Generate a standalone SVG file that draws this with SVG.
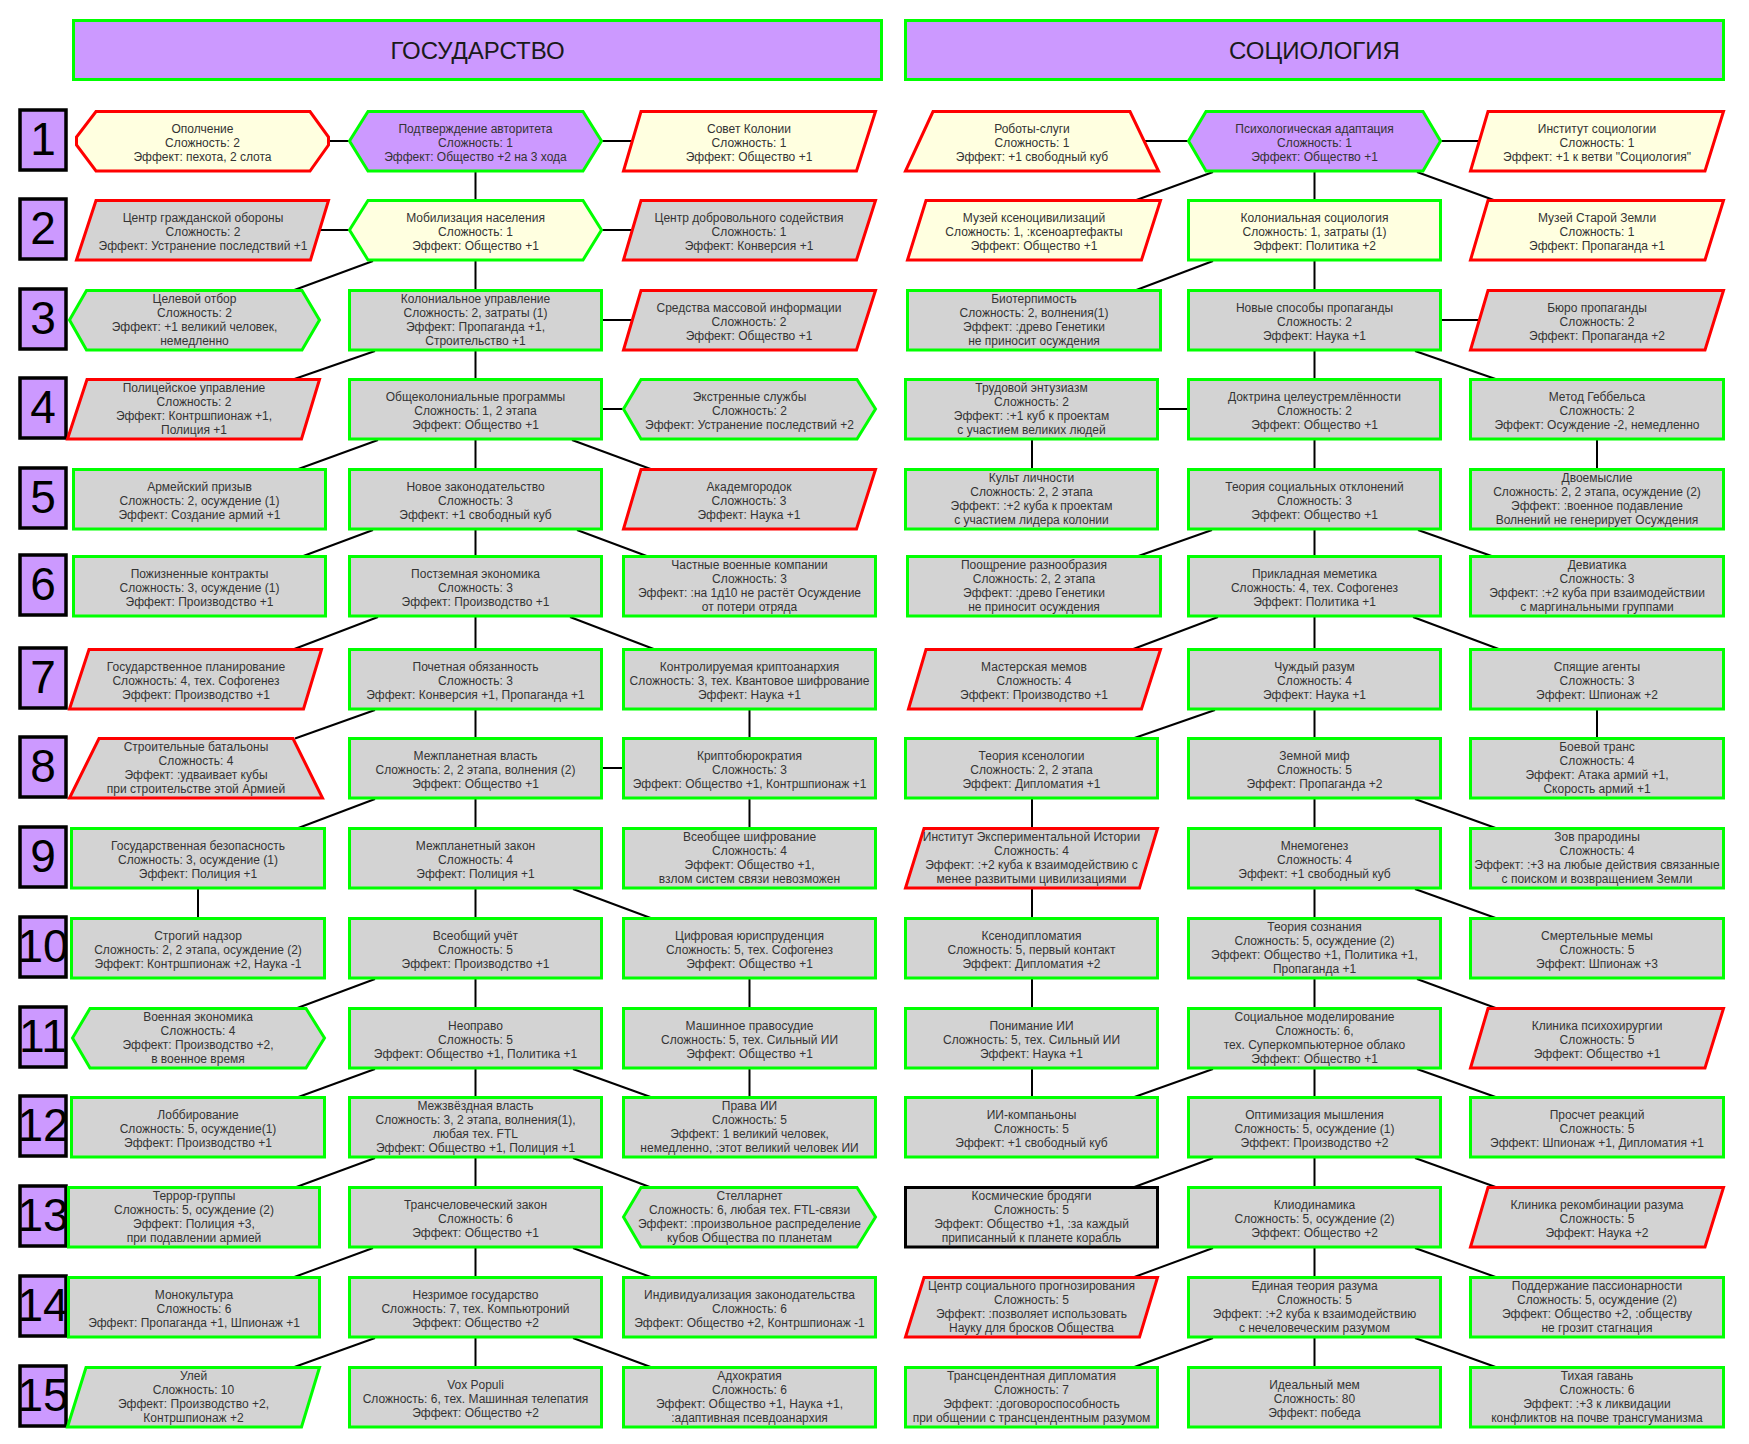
<svg xmlns="http://www.w3.org/2000/svg" width="1749" height="1444" viewBox="0 0 1749 1444">
<style>
.n{stroke-width:3}
.g{stroke:#00ff00}
.r{stroke:#ff0000}
.k{stroke:#000000}
.y{fill:#ffffe0}
.s{fill:#d3d3d3}
.p{fill:#cc99ff}
.t{font-family:"Liberation Sans",Arial,sans-serif;font-size:12px;fill:#333333;text-anchor:middle}
.h{font-family:"Liberation Sans",Arial,sans-serif;font-size:24px;fill:#1a1a1a;text-anchor:middle}
.num{font-family:"Liberation Sans",Arial,sans-serif;font-size:46px;fill:#000000;text-anchor:middle}
.rb{fill:#cc99ff;stroke:#000000;stroke-width:3.5}
#connectors line{stroke:#000000;stroke-width:2}
</style>
<rect x="0" y="0" width="1749" height="1444" fill="#ffffff"/>

<g id="headers">
<g id="header-gov"><rect class="n g p" x="73.5" y="20.5" width="808" height="59"/><text class="h" x="477.5" y="59">ГОСУДАРСТВО</text></g>
<g id="header-soc"><rect class="n g p" x="905.5" y="20.5" width="818" height="59"/><text class="h" x="1314.5" y="59">СОЦИОЛОГИЯ</text></g>
</g>

<g id="rows">
<g id="row1"><rect class="rb" x="20" y="110" width="46" height="60"/><text class="num" x="43" y="155">1</text></g>
<g id="row2"><rect class="rb" x="20" y="199" width="46" height="60"/><text class="num" x="43" y="244">2</text></g>
<g id="row3"><rect class="rb" x="20" y="289" width="46" height="60"/><text class="num" x="43" y="334">3</text></g>
<g id="row4"><rect class="rb" x="20" y="378" width="46" height="60"/><text class="num" x="43" y="423">4</text></g>
<g id="row5"><rect class="rb" x="20" y="468" width="46" height="60"/><text class="num" x="43" y="513">5</text></g>
<g id="row6"><rect class="rb" x="20" y="555" width="46" height="60"/><text class="num" x="43" y="600">6</text></g>
<g id="row7"><rect class="rb" x="20" y="648" width="46" height="60"/><text class="num" x="43" y="693">7</text></g>
<g id="row8"><rect class="rb" x="20" y="737" width="46" height="60"/><text class="num" x="43" y="782">8</text></g>
<g id="row9"><rect class="rb" x="20" y="827" width="46" height="60"/><text class="num" x="43" y="872">9</text></g>
<g id="row10"><rect class="rb" x="20" y="917" width="46" height="60"/><text class="num" x="43" y="962">10</text></g>
<g id="row11"><rect class="rb" x="20" y="1007" width="46" height="60"/><text class="num" x="43" y="1052">11</text></g>
<g id="row12"><rect class="rb" x="20" y="1096" width="46" height="60"/><text class="num" x="43" y="1141">12</text></g>
<g id="row13"><rect class="rb" x="20" y="1186" width="46" height="60"/><text class="num" x="43" y="1231">13</text></g>
<g id="row14"><rect class="rb" x="20" y="1276" width="46" height="60"/><text class="num" x="43" y="1321">14</text></g>
<g id="row15"><rect class="rb" x="20" y="1366" width="46" height="60"/><text class="num" x="43" y="1411">15</text></g>
</g>

<g id="connectors">
<line x1="475.5" y1="171" x2="475.5" y2="200.5"/>
<line x1="475.5" y1="260" x2="475.5" y2="290.5"/>
<line x1="475.5" y1="350" x2="475.5" y2="379.5"/>
<line x1="475.5" y1="439" x2="475.5" y2="469.5"/>
<line x1="475.5" y1="529" x2="475.5" y2="556.5"/>
<line x1="475.5" y1="616" x2="475.5" y2="649.5"/>
<line x1="475.5" y1="709" x2="475.5" y2="738.5"/>
<line x1="475.5" y1="798" x2="475.5" y2="828.5"/>
<line x1="475.5" y1="888" x2="475.5" y2="918.5"/>
<line x1="475.5" y1="978" x2="475.5" y2="1008.5"/>
<line x1="475.5" y1="1068" x2="475.5" y2="1097.5"/>
<line x1="475.5" y1="1157" x2="475.5" y2="1187.5"/>
<line x1="475.5" y1="1247" x2="475.5" y2="1277.5"/>
<line x1="475.5" y1="1337" x2="475.5" y2="1367.5"/>
<line x1="749.5" y1="709" x2="749.5" y2="738.5"/>
<line x1="749.5" y1="798" x2="749.5" y2="828.5"/>
<line x1="749.5" y1="978" x2="749.5" y2="1008.5"/>
<line x1="749.5" y1="1068" x2="749.5" y2="1097.5"/>
<line x1="198" y1="888" x2="198" y2="918.5"/>
<line x1="328.5" y1="141" x2="349.5" y2="141"/>
<line x1="601.5" y1="141" x2="632" y2="141"/>
<line x1="320" y1="230" x2="349.5" y2="230"/>
<line x1="601.5" y1="230" x2="632" y2="230"/>
<line x1="601.5" y1="320" x2="632" y2="320"/>
<line x1="601.5" y1="409" x2="623.5" y2="409"/>
<line x1="601.5" y1="768" x2="623.5" y2="768"/>
<line x1="373" y1="261" x2="293" y2="290.5"/>
<line x1="375" y1="351" x2="293" y2="379.5"/>
<line x1="378" y1="440" x2="297" y2="469.5"/>
<line x1="373" y1="530" x2="302" y2="556.5"/>
<line x1="378" y1="617" x2="293" y2="649.5"/>
<line x1="375" y1="710" x2="295" y2="738.5"/>
<line x1="375" y1="799" x2="297" y2="828.5"/>
<line x1="375" y1="979" x2="296" y2="1008.5"/>
<line x1="375" y1="1069" x2="297" y2="1097.5"/>
<line x1="375" y1="1158" x2="295" y2="1187.5"/>
<line x1="373" y1="1248" x2="293" y2="1277.5"/>
<line x1="375" y1="1338" x2="293" y2="1367.5"/>
<line x1="572" y1="440" x2="652" y2="469.5"/>
<line x1="577" y1="530" x2="648" y2="556.5"/>
<line x1="570" y1="617" x2="655" y2="649.5"/>
<line x1="573" y1="889" x2="652" y2="918.5"/>
<line x1="573" y1="1069" x2="652" y2="1097.5"/>
<line x1="573" y1="1158" x2="651" y2="1187.5"/>
<line x1="573" y1="1248" x2="652" y2="1277.5"/>
<line x1="573" y1="1338" x2="652" y2="1367.5"/>
<line x1="1314.5" y1="171" x2="1314.5" y2="200.5"/>
<line x1="1314.5" y1="260" x2="1314.5" y2="290.5"/>
<line x1="1314.5" y1="350" x2="1314.5" y2="379.5"/>
<line x1="1314.5" y1="439" x2="1314.5" y2="469.5"/>
<line x1="1314.5" y1="529" x2="1314.5" y2="556.5"/>
<line x1="1314.5" y1="616" x2="1314.5" y2="649.5"/>
<line x1="1314.5" y1="709" x2="1314.5" y2="738.5"/>
<line x1="1314.5" y1="798" x2="1314.5" y2="828.5"/>
<line x1="1314.5" y1="888" x2="1314.5" y2="918.5"/>
<line x1="1314.5" y1="978" x2="1314.5" y2="1008.5"/>
<line x1="1314.5" y1="1068" x2="1314.5" y2="1097.5"/>
<line x1="1314.5" y1="1157" x2="1314.5" y2="1187.5"/>
<line x1="1314.5" y1="1247" x2="1314.5" y2="1277.5"/>
<line x1="1314.5" y1="1337" x2="1314.5" y2="1367.5"/>
<line x1="1032" y1="439" x2="1032" y2="469.5"/>
<line x1="1032" y1="798" x2="1032" y2="828.5"/>
<line x1="1032" y1="888" x2="1032" y2="918.5"/>
<line x1="1032" y1="978" x2="1032" y2="1008.5"/>
<line x1="1032" y1="1068" x2="1032" y2="1097.5"/>
<line x1="1597" y1="439" x2="1597" y2="469.5"/>
<line x1="1597" y1="709" x2="1597" y2="738.5"/>
<line x1="1144" y1="141" x2="1188.5" y2="141"/>
<line x1="1440.5" y1="141" x2="1479" y2="141"/>
<line x1="1440.5" y1="320" x2="1479" y2="320"/>
<line x1="1158.5" y1="409" x2="1188.5" y2="409"/>
<line x1="1213" y1="172" x2="1135" y2="200.5"/>
<line x1="1213" y1="261" x2="1135" y2="290.5"/>
<line x1="1212" y1="530" x2="1137" y2="556.5"/>
<line x1="1218" y1="617" x2="1132" y2="649.5"/>
<line x1="1215" y1="710" x2="1133" y2="738.5"/>
<line x1="1213" y1="1069" x2="1133" y2="1097.5"/>
<line x1="1213" y1="1158" x2="1133" y2="1187.5"/>
<line x1="1213" y1="1248" x2="1133" y2="1277.5"/>
<line x1="1213" y1="1338" x2="1133" y2="1367.5"/>
<line x1="1417" y1="172" x2="1495" y2="200.5"/>
<line x1="1415" y1="351" x2="1497" y2="379.5"/>
<line x1="1418" y1="530" x2="1493" y2="556.5"/>
<line x1="1413" y1="617" x2="1500" y2="649.5"/>
<line x1="1415" y1="799" x2="1497" y2="828.5"/>
<line x1="1415" y1="889" x2="1497" y2="918.5"/>
<line x1="1417" y1="979" x2="1497" y2="1008.5"/>
<line x1="1417" y1="1069" x2="1497" y2="1097.5"/>
<line x1="1415" y1="1158" x2="1497" y2="1187.5"/>
<line x1="1415" y1="1248" x2="1497" y2="1277.5"/>
<line x1="1415" y1="1338" x2="1497" y2="1367.5"/>
</g>

<g id="nodes">
<g id="A1"><polygon class="n r y" points="96,111.5 310,111.5 328.5,137 328.5,145 310,171 96,171 76.5,145 76.5,137"/><text class="t" y="133"><tspan x="202.5">Ополчение</tspan><tspan x="202.5" dy="14">Сложность: 2</tspan><tspan x="202.5" dy="14">Эффект: пехота, 2 слота</tspan></text></g>
<g id="B1"><polygon class="n g p" points="368,111.5 583,111.5 601.5,141 583,171 368,171 349.5,141"/><text class="t" y="133"><tspan x="475.5">Подтверждение авторитета</tspan><tspan x="475.5" dy="14">Сложность: 1</tspan><tspan x="475.5" dy="14">Эффект: Общество +2 на 3 хода</tspan></text></g>
<g id="C1"><polygon class="n r y" points="641,111.5 875.5,111.5 856.5,171 623.5,171"/><text class="t" y="133"><tspan x="749">Совет Колонии</tspan><tspan x="749" dy="14">Сложность: 1</tspan><tspan x="749" dy="14">Эффект: Общество +1</tspan></text></g>

<g id="A2"><polygon class="n r s" points="96,200.5 328.5,200.5 310.5,260 76.5,260"/><text class="t" y="222"><tspan x="203">Центр гражданской обороны</tspan><tspan x="203" dy="14">Сложность: 2</tspan><tspan x="203" dy="14">Эффект: Устранение последствий +1</tspan></text></g>
<g id="B2"><polygon class="n g y" points="368,200.5 583,200.5 601.5,230 583,260 368,260 349.5,230"/><text class="t" y="222"><tspan x="475.5">Мобилизация населения</tspan><tspan x="475.5" dy="14">Сложность: 1</tspan><tspan x="475.5" dy="14">Эффект: Общество +1</tspan></text></g>
<g id="C2"><polygon class="n r s" points="641,200.5 875.5,200.5 856.5,260 623.5,260"/><text class="t" y="222"><tspan x="749">Центр добровольного содействия</tspan><tspan x="749" dy="14">Сложность: 1</tspan><tspan x="749" dy="14">Эффект: Конверсия +1</tspan></text></g>

<g id="A3"><polygon class="n g s" points="86.5,290.5 302,290.5 319.5,320 302,350 86.5,350 69.5,320"/><text class="t" y="302.5"><tspan x="194.5">Целевой отбор</tspan><tspan x="194.5" dy="14">Сложность: 2</tspan><tspan x="194.5" dy="14">Эффект: +1 великий человек,</tspan><tspan x="194.5" dy="14">немедленно</tspan></text></g>
<g id="B3"><rect class="n g s" x="349.5" y="290.5" width="252" height="59.5"/><text class="t" y="302.5"><tspan x="475.5">Колониальное управление</tspan><tspan x="475.5" dy="14">Сложность: 2, затраты (1)</tspan><tspan x="475.5" dy="14">Эффект: Пропаганда +1,</tspan><tspan x="475.5" dy="14">Строительство +1</tspan></text></g>
<g id="C3"><polygon class="n r s" points="641,290.5 875.5,290.5 856.5,350 623.5,350"/><text class="t" y="312"><tspan x="749">Средства массовой информации</tspan><tspan x="749" dy="14">Сложность: 2</tspan><tspan x="749" dy="14">Эффект: Общество +1</tspan></text></g>

<g id="A4"><polygon class="n r s" points="87,379.5 319.5,379.5 301.5,439 67.5,439"/><text class="t" y="391.5"><tspan x="194">Полицейское управление</tspan><tspan x="194" dy="14">Сложность: 2</tspan><tspan x="194" dy="14">Эффект: Контршпионаж +1,</tspan><tspan x="194" dy="14">Полиция +1</tspan></text></g>
<g id="B4"><rect class="n g s" x="349.5" y="379.5" width="252" height="59.5"/><text class="t" y="401"><tspan x="475.5">Общеколониальные программы</tspan><tspan x="475.5" dy="14">Сложность: 1, 2 этапа</tspan><tspan x="475.5" dy="14">Эффект: Общество +1</tspan></text></g>
<g id="C4"><polygon class="n g s" points="641,379.5 857,379.5 875.5,409 857,439 641,439 623.5,409"/><text class="t" y="401"><tspan x="749.5">Экстренные службы</tspan><tspan x="749.5" dy="14">Сложность: 2</tspan><tspan x="749.5" dy="14">Эффект: Устранение последствий +2</tspan></text></g>

<g id="A5"><rect class="n g s" x="73.5" y="469.5" width="252" height="59.5"/><text class="t" y="491"><tspan x="199.5">Армейский призыв</tspan><tspan x="199.5" dy="14">Сложность: 2, осуждение (1)</tspan><tspan x="199.5" dy="14">Эффект: Создание армий +1</tspan></text></g>
<g id="B5"><rect class="n g s" x="349.5" y="469.5" width="252" height="59.5"/><text class="t" y="491"><tspan x="475.5">Новое законодательство</tspan><tspan x="475.5" dy="14">Сложность: 3</tspan><tspan x="475.5" dy="14">Эффект: +1 свободный куб</tspan></text></g>
<g id="C5"><polygon class="n r s" points="641,469.5 875.5,469.5 856.5,529 623.5,529"/><text class="t" y="491"><tspan x="749">Академгородок</tspan><tspan x="749" dy="14">Сложность: 3</tspan><tspan x="749" dy="14">Эффект: Наука +1</tspan></text></g>

<g id="A6"><rect class="n g s" x="73.5" y="556.5" width="252" height="59.5"/><text class="t" y="578"><tspan x="199.5">Пожизненные контракты</tspan><tspan x="199.5" dy="14">Сложность: 3, осуждение (1)</tspan><tspan x="199.5" dy="14">Эффект: Производство +1</tspan></text></g>
<g id="B6"><rect class="n g s" x="349.5" y="556.5" width="252" height="59.5"/><text class="t" y="578"><tspan x="475.5">Постземная экономика</tspan><tspan x="475.5" dy="14">Сложность: 3</tspan><tspan x="475.5" dy="14">Эффект: Производство +1</tspan></text></g>
<g id="C6"><rect class="n g s" x="623.5" y="556.5" width="252" height="59.5"/><text class="t" y="568.5"><tspan x="749.5">Частные военные компании</tspan><tspan x="749.5" dy="14">Сложность: 3</tspan><tspan x="749.5" dy="14">Эффект: :на 1д10 не растёт Осуждение</tspan><tspan x="749.5" dy="14">от потери отряда</tspan></text></g>

<g id="A7"><polygon class="n r s" points="89,649.5 321.5,649.5 303.5,709 69.5,709"/><text class="t" y="671"><tspan x="196">Государственное планирование</tspan><tspan x="196" dy="14">Сложность: 4, тех. Софогенез</tspan><tspan x="196" dy="14">Эффект: Производство +1</tspan></text></g>
<g id="B7"><rect class="n g s" x="349.5" y="649.5" width="252" height="59.5"/><text class="t" y="671"><tspan x="475.5">Почетная обязанность</tspan><tspan x="475.5" dy="14">Сложность: 3</tspan><tspan x="475.5" dy="14">Эффект: Конверсия +1, Пропаганда +1</tspan></text></g>
<g id="C7"><rect class="n g s" x="623.5" y="649.5" width="252" height="59.5"/><text class="t" y="671"><tspan x="749.5">Контролируемая криптоанархия</tspan><tspan x="749.5" dy="14">Сложность: 3, тех. Квантовое шифрование</tspan><tspan x="749.5" dy="14">Эффект: Наука +1</tspan></text></g>

<g id="A8"><polygon class="n r s" points="99,738.5 293,738.5 322.5,798 69.5,798"/><text class="t" y="750.5"><tspan x="196">Строительные батальоны</tspan><tspan x="196" dy="14">Сложность: 4</tspan><tspan x="196" dy="14">Эффект: :удваивает кубы</tspan><tspan x="196" dy="14">при строительстве этой Армией</tspan></text></g>
<g id="B8"><rect class="n g s" x="349.5" y="738.5" width="252" height="59.5"/><text class="t" y="760"><tspan x="475.5">Межпланетная власть</tspan><tspan x="475.5" dy="14">Сложность: 2, 2 этапа, волнения (2)</tspan><tspan x="475.5" dy="14">Эффект: Общество +1</tspan></text></g>
<g id="C8"><rect class="n g s" x="623.5" y="738.5" width="252" height="59.5"/><text class="t" y="760"><tspan x="749.5">Криптобюрократия</tspan><tspan x="749.5" dy="14">Сложность: 3</tspan><tspan x="749.5" dy="14">Эффект: Общество +1, Контршпионаж +1</tspan></text></g>

<g id="A9"><rect class="n g s" x="71.5" y="828.5" width="253" height="59.5"/><text class="t" y="850"><tspan x="198">Государственная безопасность</tspan><tspan x="198" dy="14">Сложность: 3, осуждение (1)</tspan><tspan x="198" dy="14">Эффект: Полиция +1</tspan></text></g>
<g id="B9"><rect class="n g s" x="349.5" y="828.5" width="252" height="59.5"/><text class="t" y="850"><tspan x="475.5">Межпланетный закон</tspan><tspan x="475.5" dy="14">Сложность: 4</tspan><tspan x="475.5" dy="14">Эффект: Полиция +1</tspan></text></g>
<g id="C9"><rect class="n g s" x="623.5" y="828.5" width="252" height="59.5"/><text class="t" y="840.5"><tspan x="749.5">Всеобщее шифрование</tspan><tspan x="749.5" dy="14">Сложность: 4</tspan><tspan x="749.5" dy="14">Эффект: Общество +1,</tspan><tspan x="749.5" dy="14">взлом систем связи невозможен</tspan></text></g>

<g id="A10"><rect class="n g s" x="71.5" y="918.5" width="253" height="59.5"/><text class="t" y="940"><tspan x="198">Строгий надзор</tspan><tspan x="198" dy="14">Сложность: 2, 2 этапа, осуждение (2)</tspan><tspan x="198" dy="14">Эффект: Контршпионаж +2, Наука -1</tspan></text></g>
<g id="B10"><rect class="n g s" x="349.5" y="918.5" width="252" height="59.5"/><text class="t" y="940"><tspan x="475.5">Всеобщий учёт</tspan><tspan x="475.5" dy="14">Сложность: 5</tspan><tspan x="475.5" dy="14">Эффект: Производство +1</tspan></text></g>
<g id="C10"><rect class="n g s" x="623.5" y="918.5" width="252" height="59.5"/><text class="t" y="940"><tspan x="749.5">Цифровая юриспруденция</tspan><tspan x="749.5" dy="14">Сложность: 5, тех. Софогенез</tspan><tspan x="749.5" dy="14">Эффект: Общество +1</tspan></text></g>

<g id="A11"><polygon class="n g s" points="90,1008.5 306,1008.5 324.5,1038 306,1068 90,1068 72.5,1038"/><text class="t" y="1020.5"><tspan x="198">Военная экономика</tspan><tspan x="198" dy="14">Сложность: 4</tspan><tspan x="198" dy="14">Эффект: Производство +2,</tspan><tspan x="198" dy="14">в военное время</tspan></text></g>
<g id="B11"><rect class="n g s" x="349.5" y="1008.5" width="252" height="59.5"/><text class="t" y="1030"><tspan x="475.5">Неоправо</tspan><tspan x="475.5" dy="14">Сложность: 5</tspan><tspan x="475.5" dy="14">Эффект: Общество +1, Политика +1</tspan></text></g>
<g id="C11"><rect class="n g s" x="623.5" y="1008.5" width="252" height="59.5"/><text class="t" y="1030"><tspan x="749.5">Машинное правосудие</tspan><tspan x="749.5" dy="14">Сложность: 5, тех. Сильный ИИ</tspan><tspan x="749.5" dy="14">Эффект: Общество +1</tspan></text></g>

<g id="A12"><rect class="n g s" x="71.5" y="1097.5" width="253" height="59.5"/><text class="t" y="1119"><tspan x="198">Лоббирование</tspan><tspan x="198" dy="14">Сложность: 5, осуждение(1)</tspan><tspan x="198" dy="14">Эффект: Производство +1</tspan></text></g>
<g id="B12"><rect class="n g s" x="349.5" y="1097.5" width="252" height="59.5"/><text class="t" y="1109.5"><tspan x="475.5">Межзвёздная власть</tspan><tspan x="475.5" dy="14">Сложность: 3, 2 этапа, волнения(1),</tspan><tspan x="475.5" dy="14">любая тех. FTL</tspan><tspan x="475.5" dy="14">Эффект: Общество +1, Полиция +1</tspan></text></g>
<g id="C12"><rect class="n g s" x="623.5" y="1097.5" width="252" height="59.5"/><text class="t" y="1109.5"><tspan x="749.5">Права ИИ</tspan><tspan x="749.5" dy="14">Сложность: 5</tspan><tspan x="749.5" dy="14">Эффект: 1 великий человек,</tspan><tspan x="749.5" dy="14">немедленно, :этот великий человек ИИ</tspan></text></g>

<g id="A13"><rect class="n g s" x="68.5" y="1187.5" width="251" height="59.5"/><text class="t" y="1199.5"><tspan x="194">Террор-группы</tspan><tspan x="194" dy="14">Сложность: 5, осуждение (2)</tspan><tspan x="194" dy="14">Эффект: Полиция +3,</tspan><tspan x="194" dy="14">при подавлении армией</tspan></text></g>
<g id="B13"><rect class="n g s" x="349.5" y="1187.5" width="252" height="59.5"/><text class="t" y="1209"><tspan x="475.5">Трансчеловеческий закон</tspan><tspan x="475.5" dy="14">Сложность: 6</tspan><tspan x="475.5" dy="14">Эффект: Общество +1</tspan></text></g>
<g id="C13"><polygon class="n g s" points="641,1187.5 857,1187.5 875.5,1217 857,1247 641,1247 623.5,1217"/><text class="t" y="1199.5"><tspan x="749.5">Стелларнет</tspan><tspan x="749.5" dy="14">Сложность: 6, любая тех. FTL-связи</tspan><tspan x="749.5" dy="14">Эффект: :произвольное распределение</tspan><tspan x="749.5" dy="14">кубов Общества по планетам</tspan></text></g>

<g id="A14"><rect class="n g s" x="68.5" y="1277.5" width="251" height="59.5"/><text class="t" y="1299"><tspan x="194">Монокультура</tspan><tspan x="194" dy="14">Сложность: 6</tspan><tspan x="194" dy="14">Эффект: Пропаганда +1, Шпионаж +1</tspan></text></g>
<g id="B14"><rect class="n g s" x="349.5" y="1277.5" width="252" height="59.5"/><text class="t" y="1299"><tspan x="475.5">Незримое государство</tspan><tspan x="475.5" dy="14">Сложность: 7, тех. Компьютроний</tspan><tspan x="475.5" dy="14">Эффект: Общество +2</tspan></text></g>
<g id="C14"><rect class="n g s" x="623.5" y="1277.5" width="252" height="59.5"/><text class="t" y="1299"><tspan x="749.5">Индивидуализация законодательства</tspan><tspan x="749.5" dy="14">Сложность: 6</tspan><tspan x="749.5" dy="14">Эффект: Общество +2, Контршпионаж -1</tspan></text></g>

<g id="A15"><polygon class="n g s" points="86,1367.5 319.5,1367.5 301.5,1427 67.5,1427"/><text class="t" y="1379.5"><tspan x="193.5">Улей</tspan><tspan x="193.5" dy="14">Сложность: 10</tspan><tspan x="193.5" dy="14">Эффект: Производство +2,</tspan><tspan x="193.5" dy="14">Контршпионаж +2</tspan></text></g>
<g id="B15"><rect class="n g s" x="349.5" y="1367.5" width="252" height="59.5"/><text class="t" y="1389"><tspan x="475.5">Vox Populi</tspan><tspan x="475.5" dy="14">Сложность: 6, тех. Машинная телепатия</tspan><tspan x="475.5" dy="14">Эффект: Общество +2</tspan></text></g>
<g id="C15"><rect class="n g s" x="623.5" y="1367.5" width="252" height="59.5"/><text class="t" y="1379.5"><tspan x="749.5">Адхократия</tspan><tspan x="749.5" dy="14">Сложность: 6</tspan><tspan x="749.5" dy="14">Эффект: Общество +1, Наука +1,</tspan><tspan x="749.5" dy="14">:адаптивная псевдоанархия</tspan></text></g>

<g id="D1"><polygon class="n r y" points="933,111.5 1130,111.5 1158.5,171 905.5,171"/><text class="t" y="133"><tspan x="1032">Роботы-слуги</tspan><tspan x="1032" dy="14">Сложность: 1</tspan><tspan x="1032" dy="14">Эффект: +1 свободный куб</tspan></text></g>
<g id="E1"><polygon class="n g p" points="1206,111.5 1423,111.5 1440.5,141 1423,171 1206,171 1188.5,141"/><text class="t" y="133"><tspan x="1314.5">Психологическая адаптация</tspan><tspan x="1314.5" dy="14">Сложность: 1</tspan><tspan x="1314.5" dy="14">Эффект: Общество +1</tspan></text></g>
<g id="F1"><polygon class="n r y" points="1488,111.5 1723.5,111.5 1705,171 1470.5,171"/><text class="t" y="133"><tspan x="1597">Институт социологии</tspan><tspan x="1597" dy="14">Сложность: 1</tspan><tspan x="1597" dy="14">Эффект: +1 к ветви "Социология"</tspan></text></g>

<g id="D2"><polygon class="n r y" points="926,200.5 1160.5,200.5 1141.5,260 907.5,260"/><text class="t" y="222"><tspan x="1034">Музей ксеноцивилизаций</tspan><tspan x="1034" dy="14">Сложность: 1, :ксеноартефакты</tspan><tspan x="1034" dy="14">Эффект: Общество +1</tspan></text></g>
<g id="E2"><rect class="n g y" x="1188.5" y="200.5" width="252" height="59.5"/><text class="t" y="222"><tspan x="1314.5">Колониальная социология</tspan><tspan x="1314.5" dy="14">Сложность: 1, затраты (1)</tspan><tspan x="1314.5" dy="14">Эффект: Политика +2</tspan></text></g>
<g id="F2"><polygon class="n r y" points="1488,200.5 1723.5,200.5 1705,260 1470.5,260"/><text class="t" y="222"><tspan x="1597">Музей Старой Земли</tspan><tspan x="1597" dy="14">Сложность: 1</tspan><tspan x="1597" dy="14">Эффект: Пропаганда +1</tspan></text></g>

<g id="D3"><rect class="n g s" x="907.5" y="290.5" width="253" height="59.5"/><text class="t" y="302.5"><tspan x="1034">Биотерпимость</tspan><tspan x="1034" dy="14">Сложность: 2, волнения(1)</tspan><tspan x="1034" dy="14">Эффект: :древо Генетики</tspan><tspan x="1034" dy="14">не приносит осуждения</tspan></text></g>
<g id="E3"><rect class="n g s" x="1188.5" y="290.5" width="252" height="59.5"/><text class="t" y="312"><tspan x="1314.5">Новые способы пропаганды</tspan><tspan x="1314.5" dy="14">Сложность: 2</tspan><tspan x="1314.5" dy="14">Эффект: Наука +1</tspan></text></g>
<g id="F3"><polygon class="n r s" points="1488,290.5 1723.5,290.5 1705,350 1470.5,350"/><text class="t" y="312"><tspan x="1597">Бюро пропаганды</tspan><tspan x="1597" dy="14">Сложность: 2</tspan><tspan x="1597" dy="14">Эффект: Пропаганда +2</tspan></text></g>

<g id="D4"><rect class="n g s" x="905.5" y="379.5" width="252" height="59.5"/><text class="t" y="391.5"><tspan x="1031.5">Трудовой энтузиазм</tspan><tspan x="1031.5" dy="14">Сложность: 2</tspan><tspan x="1031.5" dy="14">Эффект: :+1 куб к проектам</tspan><tspan x="1031.5" dy="14">с участием великих людей</tspan></text></g>
<g id="E4"><rect class="n g s" x="1188.5" y="379.5" width="252" height="59.5"/><text class="t" y="401"><tspan x="1314.5">Доктрина целеустремлённости</tspan><tspan x="1314.5" dy="14">Сложность: 2</tspan><tspan x="1314.5" dy="14">Эффект: Общество +1</tspan></text></g>
<g id="F4"><rect class="n g s" x="1470.5" y="379.5" width="253" height="59.5"/><text class="t" y="401"><tspan x="1597">Метод Геббельса</tspan><tspan x="1597" dy="14">Сложность: 2</tspan><tspan x="1597" dy="14">Эффект: Осуждение -2, немедленно</tspan></text></g>

<g id="D5"><rect class="n g s" x="905.5" y="469.5" width="252" height="59.5"/><text class="t" y="481.5"><tspan x="1031.5">Культ личности</tspan><tspan x="1031.5" dy="14">Сложность: 2, 2 этапа</tspan><tspan x="1031.5" dy="14">Эффект: :+2 куба к проектам</tspan><tspan x="1031.5" dy="14">с участием лидера колонии</tspan></text></g>
<g id="E5"><rect class="n g s" x="1188.5" y="469.5" width="252" height="59.5"/><text class="t" y="491"><tspan x="1314.5">Теория социальных отклонений</tspan><tspan x="1314.5" dy="14">Сложность: 3</tspan><tspan x="1314.5" dy="14">Эффект: Общество +1</tspan></text></g>
<g id="F5"><rect class="n g s" x="1470.5" y="469.5" width="253" height="59.5"/><text class="t" y="481.5"><tspan x="1597">Двоемыслие</tspan><tspan x="1597" dy="14">Сложность: 2, 2 этапа, осуждение (2)</tspan><tspan x="1597" dy="14">Эффект: :военное подавление</tspan><tspan x="1597" dy="14">Волнений не генерирует Осуждения</tspan></text></g>

<g id="D6"><rect class="n g s" x="907.5" y="556.5" width="253" height="59.5"/><text class="t" y="568.5"><tspan x="1034">Поощрение разнообразия</tspan><tspan x="1034" dy="14">Сложность: 2, 2 этапа</tspan><tspan x="1034" dy="14">Эффект: :древо Генетики</tspan><tspan x="1034" dy="14">не приносит осуждения</tspan></text></g>
<g id="E6"><rect class="n g s" x="1188.5" y="556.5" width="252" height="59.5"/><text class="t" y="578"><tspan x="1314.5">Прикладная меметика</tspan><tspan x="1314.5" dy="14">Сложность: 4, тех. Софогенез</tspan><tspan x="1314.5" dy="14">Эффект: Политика +1</tspan></text></g>
<g id="F6"><rect class="n g s" x="1470.5" y="556.5" width="253" height="59.5"/><text class="t" y="568.5"><tspan x="1597">Девиатика</tspan><tspan x="1597" dy="14">Сложность: 3</tspan><tspan x="1597" dy="14">Эффект: :+2 куба при взаимодействии</tspan><tspan x="1597" dy="14">с маргинальными группами</tspan></text></g>

<g id="D7"><polygon class="n r s" points="926,649.5 1160.5,649.5 1141.5,709 908.5,709"/><text class="t" y="671"><tspan x="1034">Мастерская мемов</tspan><tspan x="1034" dy="14">Сложность: 4</tspan><tspan x="1034" dy="14">Эффект: Производство +1</tspan></text></g>
<g id="E7"><rect class="n g s" x="1188.5" y="649.5" width="252" height="59.5"/><text class="t" y="671"><tspan x="1314.5">Чуждый разум</tspan><tspan x="1314.5" dy="14">Сложность: 4</tspan><tspan x="1314.5" dy="14">Эффект: Наука +1</tspan></text></g>
<g id="F7"><rect class="n g s" x="1470.5" y="649.5" width="253" height="59.5"/><text class="t" y="671"><tspan x="1597">Спящие агенты</tspan><tspan x="1597" dy="14">Сложность: 3</tspan><tspan x="1597" dy="14">Эффект: Шпионаж +2</tspan></text></g>

<g id="D8"><rect class="n g s" x="905.5" y="738.5" width="252" height="59.5"/><text class="t" y="760"><tspan x="1031.5">Теория ксенологии</tspan><tspan x="1031.5" dy="14">Сложность: 2, 2 этапа</tspan><tspan x="1031.5" dy="14">Эффект: Дипломатия +1</tspan></text></g>
<g id="E8"><rect class="n g s" x="1188.5" y="738.5" width="252" height="59.5"/><text class="t" y="760"><tspan x="1314.5">Земной миф</tspan><tspan x="1314.5" dy="14">Сложность: 5</tspan><tspan x="1314.5" dy="14">Эффект: Пропаганда +2</tspan></text></g>
<g id="F8"><rect class="n g s" x="1470.5" y="738.5" width="253" height="59.5"/><text class="t" y="750.5"><tspan x="1597">Боевой транс</tspan><tspan x="1597" dy="14">Сложность: 4</tspan><tspan x="1597" dy="14">Эффект: Атака армий +1,</tspan><tspan x="1597" dy="14">Скорость армий +1</tspan></text></g>

<g id="D9"><polygon class="n r s" points="924,828.5 1157.5,828.5 1139.5,888 905.5,888"/><text class="t" y="840.5"><tspan x="1031.5">Институт Экспериментальной Истории</tspan><tspan x="1031.5" dy="14">Сложность: 4</tspan><tspan x="1031.5" dy="14">Эффект: :+2 куба к взаимодействию с</tspan><tspan x="1031.5" dy="14">менее развитыми цивилизациями</tspan></text></g>
<g id="E9"><rect class="n g s" x="1188.5" y="828.5" width="252" height="59.5"/><text class="t" y="850"><tspan x="1314.5">Мнемогенез</tspan><tspan x="1314.5" dy="14">Сложность: 4</tspan><tspan x="1314.5" dy="14">Эффект: +1 свободный куб</tspan></text></g>
<g id="F9"><rect class="n g s" x="1470.5" y="828.5" width="253" height="59.5"/><text class="t" y="840.5"><tspan x="1597">Зов прародины</tspan><tspan x="1597" dy="14">Сложность: 4</tspan><tspan x="1597" dy="14">Эффект: :+3 на любые действия связанные</tspan><tspan x="1597" dy="14">с поиском и возвращением Земли</tspan></text></g>

<g id="D10"><rect class="n g s" x="905.5" y="918.5" width="252" height="59.5"/><text class="t" y="940"><tspan x="1031.5">Ксенодипломатия</tspan><tspan x="1031.5" dy="14">Сложность: 5, первый контакт</tspan><tspan x="1031.5" dy="14">Эффект: Дипломатия +2</tspan></text></g>
<g id="E10"><rect class="n g s" x="1188.5" y="918.5" width="252" height="59.5"/><text class="t" y="930.5"><tspan x="1314.5">Теория сознания</tspan><tspan x="1314.5" dy="14">Сложность: 5, осуждение (2)</tspan><tspan x="1314.5" dy="14">Эффект: Общество +1, Политика +1,</tspan><tspan x="1314.5" dy="14">Пропаганда +1</tspan></text></g>
<g id="F10"><rect class="n g s" x="1470.5" y="918.5" width="253" height="59.5"/><text class="t" y="940"><tspan x="1597">Смертельные мемы</tspan><tspan x="1597" dy="14">Сложность: 5</tspan><tspan x="1597" dy="14">Эффект: Шпионаж +3</tspan></text></g>

<g id="D11"><rect class="n g s" x="905.5" y="1008.5" width="252" height="59.5"/><text class="t" y="1030"><tspan x="1031.5">Понимание ИИ</tspan><tspan x="1031.5" dy="14">Сложность: 5, тех. Сильный ИИ</tspan><tspan x="1031.5" dy="14">Эффект: Наука +1</tspan></text></g>
<g id="E11"><rect class="n g s" x="1188.5" y="1008.5" width="252" height="59.5"/><text class="t" y="1020.5"><tspan x="1314.5">Социальное моделирование</tspan><tspan x="1314.5" dy="14">Сложность: 6,</tspan><tspan x="1314.5" dy="14">тех. Суперкомпьютерное облако</tspan><tspan x="1314.5" dy="14">Эффект: Общество +1</tspan></text></g>
<g id="F11"><polygon class="n r s" points="1488,1008.5 1723.5,1008.5 1705,1068 1470.5,1068"/><text class="t" y="1030"><tspan x="1597">Клиника психохирургии</tspan><tspan x="1597" dy="14">Сложность: 5</tspan><tspan x="1597" dy="14">Эффект: Общество +1</tspan></text></g>

<g id="D12"><rect class="n g s" x="905.5" y="1097.5" width="252" height="59.5"/><text class="t" y="1119"><tspan x="1031.5">ИИ-компаньоны</tspan><tspan x="1031.5" dy="14">Сложность: 5</tspan><tspan x="1031.5" dy="14">Эффект: +1 свободный куб</tspan></text></g>
<g id="E12"><rect class="n g s" x="1188.5" y="1097.5" width="252" height="59.5"/><text class="t" y="1119"><tspan x="1314.5">Оптимизация мышления</tspan><tspan x="1314.5" dy="14">Сложность: 5, осуждение (1)</tspan><tspan x="1314.5" dy="14">Эффект: Производство +2</tspan></text></g>
<g id="F12"><rect class="n g s" x="1470.5" y="1097.5" width="253" height="59.5"/><text class="t" y="1119"><tspan x="1597">Просчет реакций</tspan><tspan x="1597" dy="14">Сложность: 5</tspan><tspan x="1597" dy="14">Эффект: Шпионаж +1, Дипломатия +1</tspan></text></g>

<g id="D13"><rect class="n k s" x="905.5" y="1187.5" width="252" height="59.5"/><text class="t" y="1199.5"><tspan x="1031.5">Космические бродяги</tspan><tspan x="1031.5" dy="14">Сложность: 5</tspan><tspan x="1031.5" dy="14">Эффект: Общество +1, :за каждый</tspan><tspan x="1031.5" dy="14">приписанный к планете корабль</tspan></text></g>
<g id="E13"><rect class="n g s" x="1188.5" y="1187.5" width="252" height="59.5"/><text class="t" y="1209"><tspan x="1314.5">Клиодинамика</tspan><tspan x="1314.5" dy="14">Сложность: 5, осуждение (2)</tspan><tspan x="1314.5" dy="14">Эффект: Общество +2</tspan></text></g>
<g id="F13"><polygon class="n r s" points="1488,1187.5 1723.5,1187.5 1705,1247 1470.5,1247"/><text class="t" y="1209"><tspan x="1597">Клиника рекомбинации разума</tspan><tspan x="1597" dy="14">Сложность: 5</tspan><tspan x="1597" dy="14">Эффект: Наука +2</tspan></text></g>

<g id="D14"><polygon class="n r s" points="924,1277.5 1157.5,1277.5 1139.5,1337 905.5,1337"/><text class="t" y="1289.5"><tspan x="1031.5">Центр социального прогнозирования</tspan><tspan x="1031.5" dy="14">Сложность: 5</tspan><tspan x="1031.5" dy="14">Эффект: :позволяет использовать</tspan><tspan x="1031.5" dy="14">Науку для бросков Общества</tspan></text></g>
<g id="E14"><rect class="n g s" x="1188.5" y="1277.5" width="252" height="59.5"/><text class="t" y="1289.5"><tspan x="1314.5">Единая теория разума</tspan><tspan x="1314.5" dy="14">Сложность: 5</tspan><tspan x="1314.5" dy="14">Эффект: :+2 куба к взаимодействию</tspan><tspan x="1314.5" dy="14">с нечеловеческим разумом</tspan></text></g>
<g id="F14"><rect class="n g s" x="1470.5" y="1277.5" width="253" height="59.5"/><text class="t" y="1289.5"><tspan x="1597">Поддержание пассионарности</tspan><tspan x="1597" dy="14">Сложность: 5, осуждение (2)</tspan><tspan x="1597" dy="14">Эффект: Общество +2, :обществу</tspan><tspan x="1597" dy="14">не грозит стагнация</tspan></text></g>

<g id="D15"><rect class="n g s" x="905.5" y="1367.5" width="252" height="59.5"/><text class="t" y="1379.5"><tspan x="1031.5">Трансцендентная дипломатия</tspan><tspan x="1031.5" dy="14">Сложность: 7</tspan><tspan x="1031.5" dy="14">Эффект: :договороспособность</tspan><tspan x="1031.5" dy="14">при общении с трансцендентным разумом</tspan></text></g>
<g id="E15"><rect class="n g s" x="1188.5" y="1367.5" width="252" height="59.5"/><text class="t" y="1389"><tspan x="1314.5">Идеальный мем</tspan><tspan x="1314.5" dy="14">Сложность: 80</tspan><tspan x="1314.5" dy="14">Эффект: победа</tspan></text></g>
<g id="F15"><rect class="n g s" x="1470.5" y="1367.5" width="253" height="59.5"/><text class="t" y="1379.5"><tspan x="1597">Тихая гавань</tspan><tspan x="1597" dy="14">Сложность: 6</tspan><tspan x="1597" dy="14">Эффект: :+3 к ликвидации</tspan><tspan x="1597" dy="14">конфликтов на почве трансгуманизма</tspan></text></g>
</g>
</svg>
